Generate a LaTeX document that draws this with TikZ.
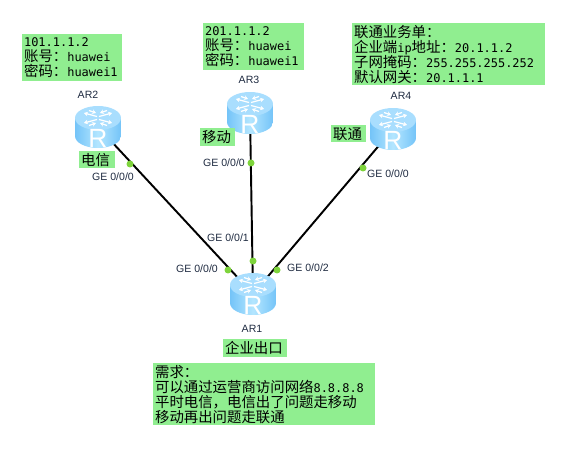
\documentclass[tikz,border=0pt]{standalone}
\usepackage{fontspec}
\setmainfont{Liberation Sans}
\setmonofont{DejaVu Sans Mono}
\newfontfamily\cjk{Noto Sans CJK SC}
\usetikzlibrary{arrows.meta,backgrounds}
\definecolor{ink}{HTML}{1E2A40}
\definecolor{note}{HTML}{90EE90}
\definecolor{port}{HTML}{7ED43C}
\definecolor{rtop}{HTML}{A9DEFE}
\definecolor{redge}{HTML}{74C4F8}
\definecolor{rmid}{HTML}{B4E6FF}
\newcommand{\cn}[1]{{\cjk\fontsize{8.2}{8.5}\selectfont #1}}
\begin{document}
\begin{tikzpicture}[
  x=0.02cm,y=-0.02cm,
  router/.style={minimum width=0.92cm,minimum height=0.84cm,inner sep=0pt,
    path picture={
      \begin{scope}[shift={(path picture bounding box.center)}]
        \path[left color=redge,right color=redge,middle color=rmid]
          (-23,-9) -- (-23,9) arc[start angle=180,end angle=0,x radius=23,y radius=12] -- (23,-9) -- cycle;
        \fill[rtop] (0,-9) ellipse[x radius=23,y radius=12];
        \foreach \sx/\sy in {1/1,-1/1,1/-1,-1/-1} {
          \draw[tip] ({\sx*1},{-9+\sy*1.5}) -- ({\sx*14},{-9+\sy*5});
          \draw[tip] ({\sx*9},{-9+\sy*7.5}) -- ({\sx*2},{-9+\sy*5});
        }
        \node[logo] (rlogo) at (0,11) {R};
      \end{scope}
    }},
  tip/.style={-{Stealth[length=2.2pt,width=2.6pt]},line width=0.7pt,draw=white},
  logo/.style={text=white,font=\fontsize{15}{15}\selectfont,inner sep=0pt},
  link/.style={line width=1.1pt,draw=black},
  portdot/.style={circle,fill=port,minimum size=0.14cm,inner sep=0pt},
  tag/.style={text=ink,font=\fontsize{6}{6}\selectfont,inner sep=0pt},
  notebox/.style={fill=note,anchor=north west,inner xsep=1pt,inner ysep=0pt,align=left,
    font=\ttfamily\fontsize{6.8}{8.5}\selectfont},
]
  \useasboundingbox (0,0) rectangle (565,449);

  \node[router] (ar1) at (253,294) {};
  \node[router] (ar2) at (98,127) {};
  \node[router] (ar3) at (250,113) {};
  \node[router] (ar4) at (393,129) {};

  \begin{scope}[on background layer]
    \draw[link] (ar2.center) -- (ar1.center);
    \draw[link] (ar3.center) -- (ar1.center);
    \draw[link] (ar4.center) -- (ar1.center);
  \end{scope}

  \node[portdot] (p2) at (130,164) {};
  \node[portdot] (p3) at (251,163) {};
  \node[portdot] (p4) at (363,168) {};
  \node[portdot] (p1a) at (228,270) {};
  \node[portdot] (p1b) at (253,261) {};
  \node[portdot] (p1c) at (277,270) {};

  \node[tag] (nar1) at (252,329) {AR1};
  \node[tag] (nar2) at (88,95) {AR2};
  \node[tag] (nar3) at (249,80) {AR3};
  \node[tag] (nar4) at (401,96) {AR4};

  \node[tag] (g2) at (113,177) {GE 0/0/0};
  \node[tag] (g3) at (224,163) {GE 0/0/0};
  \node[tag] (g4) at (388,174) {GE 0/0/0};
  \node[tag] (g1a) at (197,269) {GE 0/0/0};
  \node[tag] (g1b) at (228,238) {GE 0/0/1};
  \node[tag] (g1c) at (308,268) {GE 0/0/2};

  \node[notebox,text width=1.92cm,minimum height=0.94cm] (n2) at (22,34)
    {101.1.1.2\\\cn{账号：}huawei\\\cn{密码：}huawei1};
  \node[notebox,text width=1.94cm,minimum height=0.94cm] (n3) at (203,23)
    {201.1.1.2\\\cn{账号：}huawei\\\cn{密码：}huawei1};
  \node[notebox,text width=3.78cm,minimum height=1.24cm] (n4) at (352,23)
    {\cn{联通业务单：}\\\cn{企业端}ip\cn{地址：}20.1.1.2\\\cn{子网掩码：}255.255.255.252\\\cn{默认网关：}20.1.1.1};
  \node[notebox,text width=4.36cm,minimum height=1.24cm] (n5) at (153,363)
    {\cn{需求：}\\\cn{可以通过运营商访问网络}8.8.8.8\\\cn{平时电信，电信出了问题走移动}\\\cn{移动再出问题走联通}};

  \node[notebox,text width=0.64cm,minimum height=0.34cm] (t2) at (79,151) {\cn{电信}};
  \node[notebox,text width=0.62cm,minimum height=0.36cm] (t3) at (200,128) {\cn{移动}};
  \node[notebox,text width=0.62cm,minimum height=0.34cm] (t4) at (331,125) {\cn{联通}};
  \node[notebox,text width=1.2cm,minimum height=0.36cm] (t1) at (223,339) {\cn{企业出口}};
\end{tikzpicture}
\end{document}
